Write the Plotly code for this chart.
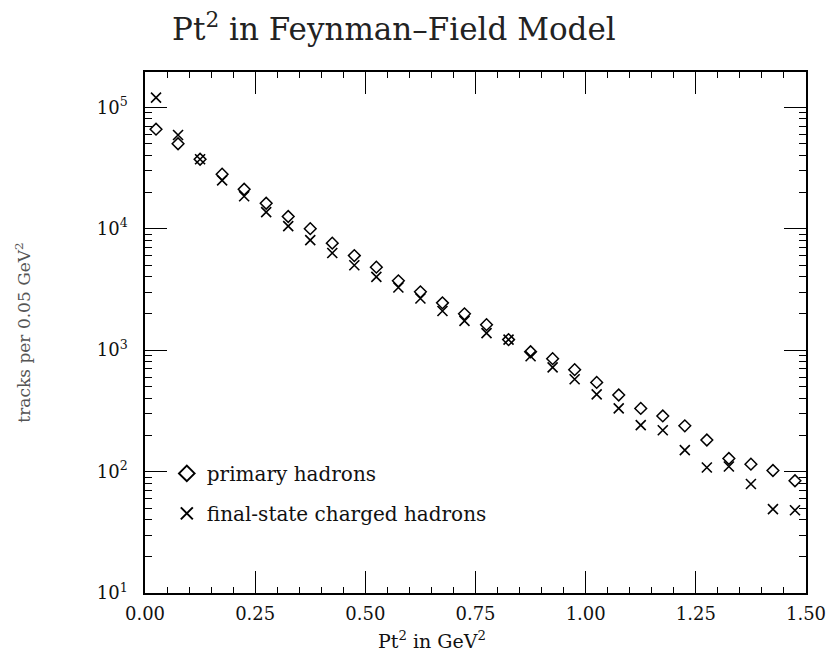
import plotly.graph_objects as go

pt2_bins = [0.025, 0.075, 0.125, 0.175, 0.225, 0.275, 0.325, 0.375, 0.425, 0.475,
            0.525, 0.575, 0.625, 0.675, 0.725, 0.775, 0.825, 0.875, 0.925, 0.975,
            1.025, 1.075, 1.125, 1.175, 1.225, 1.275, 1.325, 1.375, 1.425, 1.475]

primary_hadrons = [65900, 50000, 37300, 28100, 21100, 16200, 12600, 10000, 7600, 6000,
                   4820, 3720, 3020, 2450, 1990, 1620, 1220, 970, 850, 690,
                   542, 427, 331, 287, 238, 182, 128, 115, 102, 84]

final_state_charged = [120000, 59000, 37300, 25000, 18500, 13700, 10500, 8040, 6300, 5000,
                       4010, 3280, 2660, 2100, 1740, 1380, 1220, 890, 720, 575,
                       432, 331, 241, 219, 150, 108, 110, 79, 49, 48]

x_tick_vals = [0.0, 0.25, 0.5, 0.75, 1.0, 1.25, 1.5]
x_tick_text = ["0.00", "0.25", "0.50", "0.75", "1.00", "1.25", "1.50"]
y_tick_vals = [10, 100, 1000, 10000, 100000]
y_tick_text = ["10<sup>1</sup>", "10<sup>2</sup>", "10<sup>3</sup>", "10<sup>4</sup>", "10<sup>5</sup>"]

FONT = "DejaVu Serif"

fig = go.Figure()
fig.add_trace(go.Scatter(
    x=pt2_bins, y=primary_hadrons, mode="markers", name="primary hadrons",
    legendgroup="a",
    marker=dict(symbol="diamond-open", size=9, color="black", line=dict(width=1.5, color="black")),
))
fig.add_trace(go.Scatter(
    x=pt2_bins, y=final_state_charged, mode="markers", name="final-state charged hadrons",
    legendgroup="b",
    marker=dict(symbol="x-thin-open", size=10, color="black", line=dict(width=1.6, color="black")),
))

fig.update_layout(
    width=838, height=651,
    paper_bgcolor="white", plot_bgcolor="white",
    margin=dict(l=145, r=20, t=72, b=58),
    font=dict(family=FONT, color="black", size=16),
    title=dict(text="Pt<sup>2</sup> in Feynman–Field Model", x=0.47, xref="container",
               xanchor="center", y=0.955, yref="container", yanchor="middle",
               font=dict(family=FONT, size=31, color="#222")),
    showlegend=True,
    legend=dict(x=0.033, y=0.267, xanchor="left", yanchor="top", bgcolor="rgba(0,0,0,0)",
                font=dict(family=FONT, size=20, color="#111"), tracegroupgap=11,
                traceorder="grouped", itemsizing="constant"),
    annotations=[
        dict(text="Pt<sup>2</sup> in GeV<sup>2</sup>",
             x=(437 - 145) / (838 - 145 - 20), y=-(640 - 593) / (593 - 72),
             xref="paper", yref="paper", xanchor="center", yanchor="middle",
             showarrow=False, font=dict(family=FONT, size=19, color="#111")),
    ],
)

fig.update_xaxes(
    range=[0, 1.5], tickvals=x_tick_vals, ticktext=x_tick_text,
    ticks="inside", ticklen=22, tickwidth=1.3, tickcolor="black",
    minor=dict(ticks="inside", ticklen=6, dtick=0.05, tickwidth=1.2, tickcolor="black", showgrid=False),
    showline=True, linecolor="black", linewidth=1.5, mirror="ticks",
    showgrid=False, zeroline=False, ticklabelstandoff=4, ticklabeloverflow="allow",
    tickfont=dict(family=FONT, size=18, color="#111"),
)
fig.update_yaxes(
    type="log", range=[1, 5.29], tickvals=y_tick_vals, ticktext=y_tick_text,
    ticks="inside", ticklen=22, tickwidth=1.3, tickcolor="black",
    minor=dict(ticks="inside", ticklen=7, dtick="D1", tickwidth=1.2, tickcolor="black", showgrid=False),
    showline=True, linecolor="black", linewidth=1.5, mirror="ticks",
    showgrid=False, zeroline=False, ticklabelstandoff=12, ticklabeloverflow="allow",
    tickfont=dict(family=FONT, size=18, color="#111"),
    title=dict(text="tracks per 0.05 GeV<sup>2</sup>", font=dict(family=FONT, size=17, color="#555"), standoff=62),
)

fig.write_html("out.html")
